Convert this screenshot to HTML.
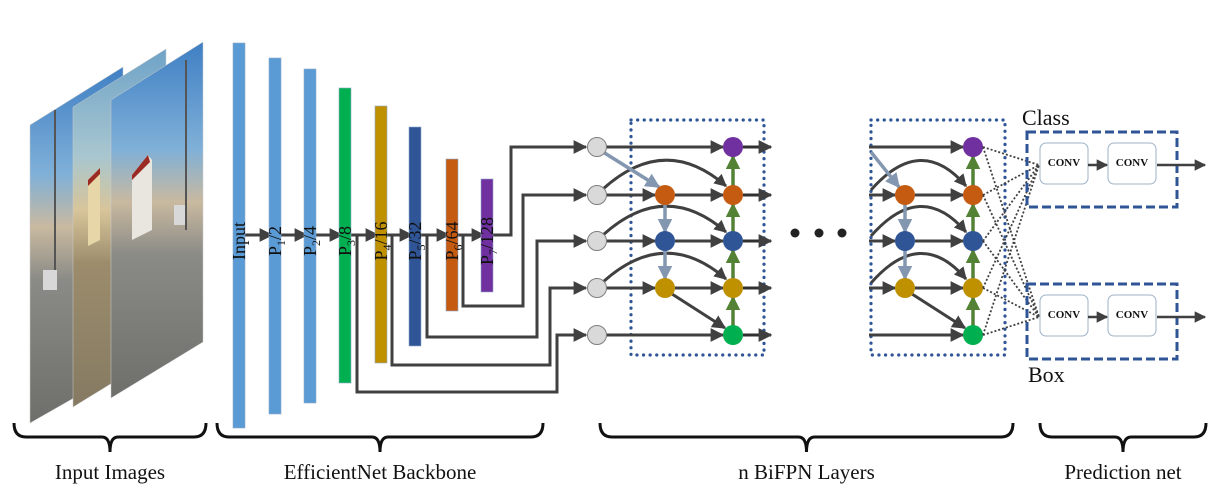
<!DOCTYPE html>
<html><head><meta charset="utf-8">
<style>
html,body{margin:0;padding:0;background:#fff;}
svg{display:block;font-family:"Liberation Serif",serif;}
</style></head>
<body>
<svg id="diagram" width="1212" height="490" viewBox="0 0 1212 490" xmlns="http://www.w3.org/2000/svg">
<defs>
<marker id="ah" viewBox="0 0 10 10" refX="9" refY="5" markerWidth="5" markerHeight="4.6" orient="auto" markerUnits="strokeWidth"><path d="M0,0L10,5L0,10z" fill="#404040"/></marker>
<marker id="ahs" viewBox="0 0 10 10" refX="9" refY="5" markerWidth="4.2" markerHeight="4.2" orient="auto" markerUnits="strokeWidth"><path d="M0,0L10,5L0,10z" fill="#404040"/></marker>
<marker id="ahb" viewBox="0 0 10 10" refX="9" refY="5" markerWidth="4.2" markerHeight="4.2" orient="auto" markerUnits="strokeWidth"><path d="M0,0L10,5L0,10z" fill="#8497b0"/></marker>
<marker id="ahg" viewBox="0 0 10 10" refX="9" refY="5" markerWidth="4.2" markerHeight="4.2" orient="auto" markerUnits="strokeWidth"><path d="M0,0L10,5L0,10z" fill="#548235"/></marker>
<linearGradient id="img" x1="0" y1="0" x2="0" y2="1">
<stop offset="0" stop-color="#3f7fc4"/><stop offset="0.3" stop-color="#7fb0d8"/><stop offset="0.45" stop-color="#c9b9a0"/><stop offset="0.6" stop-color="#8a8a86"/><stop offset="1" stop-color="#6e6e6a"/></linearGradient>
<linearGradient id="img2" x1="0" y1="0" x2="0" y2="1">
<stop offset="0" stop-color="#6fa3c8"/><stop offset="0.3" stop-color="#a8c6cf"/><stop offset="0.45" stop-color="#d8c59a"/><stop offset="0.6" stop-color="#9c8c6c"/><stop offset="1" stop-color="#857a62"/></linearGradient>
</defs>

<g>
<polygon points="30,125 123,67 123,370 30,423" fill="url(#img)" stroke="#ccc" stroke-width="0.5"/>
<polygon points="73,107 166,49 166,350 73,407" fill="url(#img2)" stroke="#ccc" stroke-width="0.5"/>
<polygon points="111,100 203,42 203,342 111,398" fill="url(#img)" stroke="#ccc" stroke-width="0.5"/>
<polygon points="132,175 148,155 152,160 152,230 132,240" fill="#e9e6e0"/>
<polygon points="132,175 148,155 150,162 132,180" fill="#9b2a22"/>
<polygon points="88,180 100,168 100,240 88,246" fill="#e7d6a8"/>
<polygon points="88,180 100,168 100,174 88,186" fill="#9b2a22"/>
<rect x="174" y="205" width="12" height="20" fill="#d8d8d8"/>
<rect x="43" y="270" width="14" height="20" fill="#d8d8d8"/>
<line x1="186" y1="60" x2="186" y2="230" stroke="#555" stroke-width="2"/>
<line x1="55" y1="110" x2="55" y2="270" stroke="#555" stroke-width="2"/>
</g>

<g id="backbone"></g>
<g id="bifpn"></g>
<g>
<circle cx="795" cy="233" r="4.5" fill="#222"/><circle cx="819" cy="233" r="4.5" fill="#222"/><circle cx="842" cy="233" r="4.5" fill="#222"/>
</g>
<g id="pred"></g>
<g id="braces"></g>
</svg>
<script>
const NS='http://www.w3.org/2000/svg';
function mk(parent,tag,attrs,txt){const e=document.createElementNS(NS,tag);for(const k in attrs)e.setAttribute(k,attrs[k]);if(txt!==undefined)e.textContent=txt;parent.appendChild(e);return e;}

const barLabels=['Input','P1/2','P2/4','P3/8','P4/16','P5/32','P6/64','P7/128'];
const barX=[233,269,304,339,375,409,446,481];
const barTop=[43,58,69,88,106,127,159,179];
const barBot=[428,414,403,383,363,346,311,292];
const barColors=['#5b9bd5','#5b9bd5','#5b9bd5','#00b050','#bf9000','#2f5597','#c55a11','#7030a0'];
const rowY=[147,195,241,288,335];
const bb=document.getElementById('backbone');
const mainY=235;
for(let i=0;i<barX.length-1;i++){
 const l=mk(bb,'line',{x1:barX[i]+12,y1:mainY,x2:barX[i+1]+3,y2:mainY,stroke:'#404040','stroke-width':3,'marker-end':'url(#ah)'});
 
 
}
const outFrom=[[492,511],[463,523],[427,537],[392,550],[357,557]];
const outDrop=[235,306,337,365,392];
for(let k=0;k<5;k++){
 const [sx,vx]=outFrom[k];const y=rowY[k];
 const d=k===0?`M${sx},${mainY} H${vx} V${y} H586`:`M${sx},${mainY} V${outDrop[k]} H${vx} V${y} H586`;
 const p=mk(bb,'path',{d:d,fill:'none',stroke:'#404040','stroke-width':3,'marker-end':'url(#ah)'});
 
 
}
for(let i=0;i<barX.length;i++){
 const r=mk(bb,'rect',{x:barX[i],y:barTop[i],width:12,height:barBot[i]-barTop[i],fill:barColors[i],stroke:'#8fa9c8','stroke-width':0.6});
 
 
 const cx=barX[i]+6;
 const t=mk(bb,'text',{x:cx,y:mainY+12,'font-size':18,transform:`rotate(-90 ${cx} ${mainY+6})`,'text-anchor':'middle',fill:'#111'});
 
 
 if(i===0){t.textContent='Input';}
 else{const [a,b]=barLabels[i].split('/');mk(t,'tspan',{},'P');mk(t,'tspan',{'font-size':12,dy:4},a.slice(1));mk(t,'tspan',{dy:-4},'/'+b);}
}

const bf=document.getElementById('bifpn');
const midColors=['#c55a11','#2f5597','#bf9000'];
const rightColors=['#7030a0','#c55a11','#2f5597','#bf9000','#00b050'];
function line(g,x1,y1,x2,y2,col,w,m,name){const l=mk(g,'line',{x1,y1,x2,y2,stroke:col,'stroke-width':w,'marker-end':m});return l;}
function block(inX,midX,rX,box,gray){
 const g=mk(bf,'g',{});
 
 
 const r=mk(g,'rect',{x:box[0],y:120,width:box[1]-box[0],height:235,fill:'none',stroke:'#2f5597','stroke-width':3.2,'stroke-dasharray':'0.1 6.5','stroke-linecap':'round'});
 
 const sx=gray?inX+9:inX;
 line(g,sx,rowY[0],rX-10,rowY[0],'#404040',3,'url(#ah)','bifpn-edge');
 line(g,sx,rowY[4],rX-10,rowY[4],'#404040',3,'url(#ah)','bifpn-edge');
 for(let i=1;i<4;i++){
  line(g,sx,rowY[i],midX-10,rowY[i],'#404040',3,'url(#ah)','bifpn-edge');
  line(g,midX+10,rowY[i],rX-10,rowY[i],'#404040',3,'url(#ah)','bifpn-edge');
  const p=mk(g,'path',{d:`M${inX+(gray?6:2)},${rowY[i]-(gray?6:5)} Q${(inX+rX)/2},${rowY[i]-62} ${rX-7},${rowY[i]-9}`,fill:'none',stroke:'#404040','stroke-width':3,'marker-end':'url(#ahs)'});
  
 }
 line(g,midX+7,rowY[3]+6,rX-8,rowY[4]-7,'#404040',3,'url(#ah)','bifpn-edge');
 line(g,inX+(gray?6:2),rowY[0]+5,midX-6,rowY[1]-8,'#8497b0',3.5,'url(#ahb)','topdown-edge');
 for(let i=1;i<3;i++)line(g,midX,rowY[i]+9,midX,rowY[i+1]-9,'#8497b0',3.5,'url(#ahb)','topdown-edge');
 for(let i=4;i>0;i--)line(g,rX,rowY[i]-9,rX,rowY[i-1]+9,'#548235',3.5,'url(#ahg)','bottomup-edge');
 if(gray)for(let i=0;i<5;i++){const c=mk(g,'circle',{cx:inX,cy:rowY[i],r:9.5,fill:'#d9d9d9',stroke:'#7f7f7f','stroke-width':1});}
 for(let i=0;i<3;i++){const c=mk(g,'circle',{cx:midX,cy:rowY[i+1],r:10,fill:midColors[i]});}
 for(let i=0;i<5;i++){const c=mk(g,'circle',{cx:rX,cy:rowY[i],r:10,fill:rightColors[i]});}
 return g;
}
const g1=block(597,665,733,[631,764],true);
for(let i=0;i<5;i++)line(g1,743,rowY[i],771,rowY[i],'#303030',3,'url(#ah)','layer-output-arrow');
block(869,905,973,[871,1005],false);

const pr=document.getElementById('pred');
const headY=[165,317];
const headNames=['Class','Box'];
for(let h=0;h<2;h++){
 const y=headY[h];
 for(let i=0;i<5;i++){const l=mk(pr,'line',{x1:983,y1:rowY[i],x2:1039,y2:y,stroke:'#404040','stroke-width':1.8,'stroke-dasharray':'2 2'});}
 const b=mk(pr,'rect',{x:1027,y:y-33,width:150,height:75,fill:'none',stroke:'#2f5597','stroke-width':3,'stroke-dasharray':'9 4'});
 
 for(let j=0;j<2;j++){
  const x=1040+j*68;
  const r=mk(pr,'rect',{x:x,y:y-22,width:48,height:41,rx:6,fill:'#fff',stroke:'#9db3c8','stroke-width':1});
  
  const t=mk(pr,'text',{x:x+24,y:y+1,'font-size':11,'font-weight':'bold','text-anchor':'middle',fill:'#111'},'CONV');
  
 }
 line(pr,1088,y,1107,y,'#404040',2.5,'url(#ah)','conv-arrow');
 line(pr,1157,y,1205,y,'#404040',2.5,'url(#ah)','head-output-arrow');
}
let t=mk(pr,'text',{x:1022,y:125,'font-size':22,fill:'#111'},'Class');
t=mk(pr,'text',{x:1028,y:382,'font-size':22,fill:'#111'},'Box');

const br=document.getElementById('braces');
const braceL=[14,217,600,1040];
const braceR=[206,543,1013,1206];
const braceText=['Input Images','EfficientNet Backbone','n BiFPN Layers','Prediction net'];
for(let i=0;i<4;i++){
 const a=braceL[i],b=braceR[i],c=(a+b)/2,top=423,mid=437,tip=452;
 const p=mk(br,'path',{d:`M${a},${top} Q${a},${mid} ${a+12},${mid} H${c-8} Q${c},${mid} ${c},${tip} Q${c},${mid} ${c+8},${mid} H${b-12} Q${b},${mid} ${b},${top}`,fill:'none',stroke:'#111','stroke-width':3});
 
 const tx=mk(br,'text',{x:c,y:479,'font-size':21,'text-anchor':'middle',fill:'#111'},braceText[i]);
 
}
</script>
</body></html>
